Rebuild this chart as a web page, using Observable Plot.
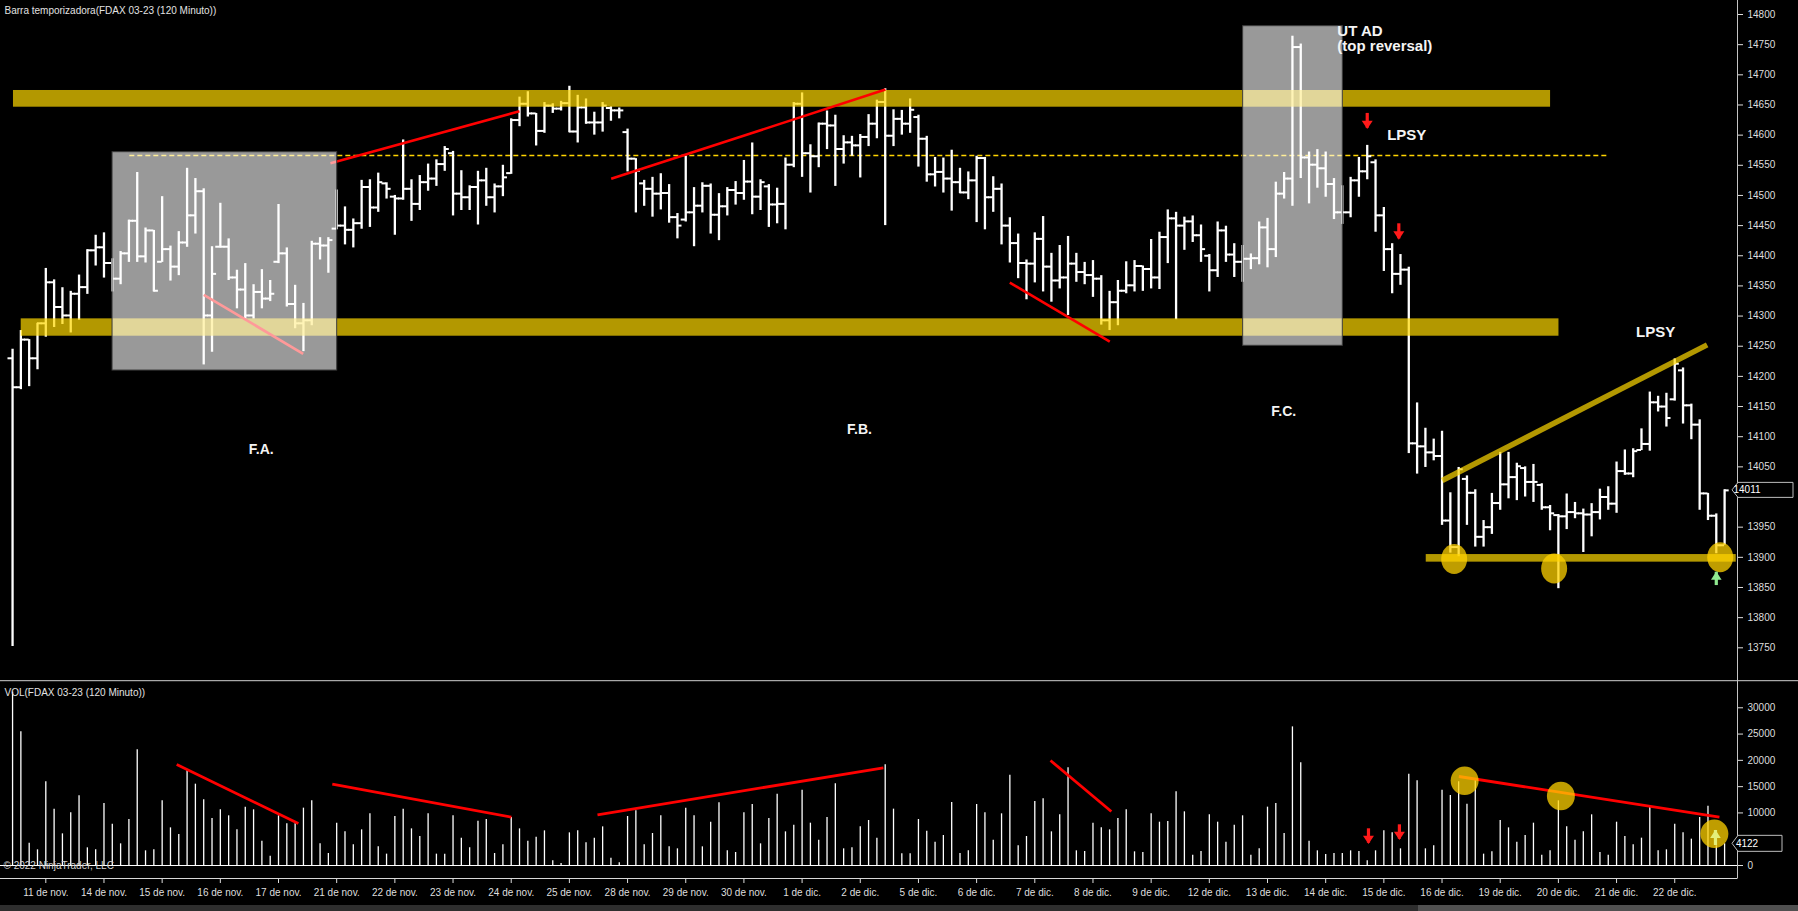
<!DOCTYPE html>
<html>
<head>
<meta charset="utf-8">
<script src="https://cdn.jsdelivr.net/npm/d3@7"></script>
<script src="https://cdn.jsdelivr.net/npm/@observablehq/plot@0.6"></script>
<style>
html,body{margin:0;padding:0;background:#000;}
#chart{position:relative;width:1798px;height:911px;background:#000;overflow:hidden;}
#price{position:absolute;left:0;top:0;}
#vol{position:absolute;left:0;top:680px;}
</style>
</head>
<body>
<div id="chart"><div id="price"></div><div id="vol"></div></div>
<script>
// ---------------- DATA ----------------
const opens = [
14230,14182,14261,14230,14288,14356,14315,14301,14337,14348,
14409,14414,14388,14362,14404,14458,14399,14442,14390,14411,
14382,14422,14467,14507,14301,14415,14415,14364,14344,14301,
14340,14329,14390,14404,14320,14288,14293,14420,14417,14445,
14450,14443,14454,14514,14480,14520,14498,14495,14511,14486,
14522,14528,14552,14570,14503,14497,14514,14525,14497,14515,
14537,14625,14652,14636,14607,14649,14644,14653,14606,14646,
14621,14621,14645,14641,14605,14561,14520,14511,14503,14504,
14464,14460,14472,14483,14516,14468,14482,14509,14504,14523,
14498,14515,14485,14486,14551,14652,14570,14565,14619,14616,
14577,14588,14583,14597,14619,14655,14599,14627,14619,14630,
14594,14535,14539,14528,14522,14505,14525,14562,14497,14511,
14450,14421,14388,14387,14428,14382,14359,14364,14387,14373,
14368,14362,14293,14323,14342,14351,14383,14378,14364,14431,
14462,14450,14457,14434,14400,14376,14442,14402,14390,14395,
14396,14447,14411,14503,14528,14746,14563,14551,14545,14519,
14472,14472,14525,14540,14555,14467,14411,14370,14377,14089,
14084,14074,14068,13961,13917,14030,14007,13934,13950,13990,
14021,14033,14048,14025,14020,13983,13970,13968,13975,13973,
13971,13975,14000,13989,14043,14039,14078,14088,14157,14150,
14162,14210,14152,14120,14006,13969,13920];
const highs = [
14245,14276,14261,14288,14379,14360,14347,14341,14368,14410,
14434,14438,14395,14407,14459,14538,14446,14442,14498,14416,
14440,14545,14528,14511,14415,14487,14428,14376,14387,14352,
14377,14359,14485,14413,14351,14321,14424,14430,14430,14509,
14481,14461,14525,14526,14537,14521,14500,14592,14526,14533,
14552,14559,14581,14573,14541,14516,14540,14545,14519,14550,
14627,14663,14672,14636,14654,14652,14656,14681,14666,14660,
14638,14654,14647,14645,14610,14561,14525,14530,14536,14518,
14470,14565,14513,14521,14519,14503,14513,14523,14558,14587,
14526,14518,14512,14562,14654,14670,14584,14620,14640,14633,
14599,14598,14601,14634,14658,14677,14642,14641,14660,14633,
14598,14563,14562,14575,14545,14539,14565,14563,14531,14519,
14463,14436,14393,14438,14465,14404,14417,14432,14404,14389,
14392,14367,14341,14359,14390,14392,14383,14427,14439,14476,
14472,14464,14466,14451,14402,14456,14449,14420,14417,14403,
14456,14462,14522,14538,14764,14751,14572,14576,14572,14528,
14516,14530,14563,14583,14559,14480,14420,14402,14381,14156,
14114,14096,14109,14007,14049,14035,14012,13961,14006,14074,
14074,14056,14050,14054,14022,13986,13971,14005,13991,13980,
13989,14013,14017,14058,14078,14080,14113,14174,14167,14172,
14229,14214,14154,14128,14006,13972,14012];
const lows = [
13752,14178,14183,14211,14265,14281,14286,14272,14293,14336,
14383,14363,14340,14352,14389,14389,14388,14340,14389,14358,
14367,14414,14436,14219,14240,14413,14359,14312,14295,14295,
14312,14324,14387,14315,14279,14241,14284,14393,14371,14443,
14418,14413,14444,14447,14472,14494,14434,14492,14457,14475,
14507,14515,14540,14466,14475,14475,14451,14482,14471,14498,
14535,14614,14630,14582,14603,14636,14640,14604,14587,14618,
14600,14605,14623,14627,14539,14471,14482,14464,14476,14454,
14428,14456,14415,14471,14436,14425,14466,14484,14492,14468,
14475,14447,14453,14443,14546,14530,14504,14546,14576,14515,
14552,14565,14529,14581,14594,14450,14581,14600,14603,14547,
14522,14514,14504,14474,14503,14493,14455,14443,14472,14418,
14388,14362,14327,14355,14340,14323,14345,14301,14356,14352,
14331,14285,14276,14284,14337,14340,14341,14345,14344,14387,
14294,14409,14422,14389,14340,14364,14389,14364,14356,14377,
14385,14380,14397,14494,14482,14528,14486,14512,14497,14460,
14452,14463,14497,14526,14439,14374,14337,14351,14072,14038,
14049,14060,13953,13907,13901,13953,13917,13917,13938,13978,
13997,13994,14000,13991,13978,13944,13848,13946,13964,13908,
13934,13962,13978,13973,14036,14032,14077,14076,14141,14116,
14159,14121,14095,13978,13961,13906,13920];
const closes = [
14182,14261,14230,14288,14356,14315,14301,14337,14348,14409,
14414,14388,14362,14404,14458,14399,14442,14342,14411,14382,
14422,14467,14507,14301,14370,14415,14364,14344,14301,14340,
14329,14337,14404,14320,14288,14293,14420,14417,14426,14450,
14443,14454,14514,14480,14522,14511,14495,14511,14486,14522,
14528,14552,14577,14503,14497,14514,14525,14497,14515,14530,
14625,14652,14636,14607,14649,14644,14653,14606,14646,14621,
14621,14649,14641,14641,14561,14541,14511,14503,14504,14464,
14450,14472,14483,14516,14468,14482,14509,14504,14523,14498,
14522,14485,14486,14551,14652,14570,14565,14619,14616,14577,
14588,14583,14597,14619,14655,14599,14627,14619,14642,14594,
14535,14539,14528,14522,14505,14525,14562,14497,14511,14450,
14421,14388,14387,14428,14382,14359,14364,14387,14373,14368,
14362,14293,14323,14342,14351,14383,14378,14364,14431,14462,
14450,14457,14434,14411,14376,14442,14402,14390,14395,14396,
14447,14411,14503,14528,14746,14563,14551,14545,14519,14472,
14472,14525,14540,14565,14467,14411,14370,14377,14089,14084,
14074,14068,13961,13917,14046,14007,13934,13950,13990,14021,
14033,14051,14025,14025,13983,13973,13968,13975,13973,13971,
13975,14000,13989,14043,14039,14076,14088,14157,14150,14131,
14221,14152,14120,14006,13969,13920,14011];
const volumes = [
33000,25420,4250,2980,15910,10720,6020,10020,13250,3360,
2980,11790,7860,4120,8750,22000,2790,2980,12300,7160,
5900,18010,15470,12490,8940,10590,9450,6780,11100,10590,
4630,1780,9450,7930,7930,10910,12300,4120,2280,8050,
6400,3930,6780,9830,3550,2160,9320,10720,6970,5520,
9830,2160,2160,9450,5200,3360,8430,8750,2280,3930,
9130,6970,4630,5390,6590,890,380,6210,6590,4310,
5200,7350,1400,510,9320,10400,3930,6090,9450,3550,
3170,10910,9450,3550,8240,11920,2790,2470,10020,11600,
4120,8940,13570,6400,7670,14330,8050,4820,9130,15530,
3170,3360,7350,8560,5200,19150,10720,2220,2220,8750,
6530,4440,5710,11980,2280,2790,11600,10020,4820,9830,
17180,3740,5520,12170,12680,6400,9640,18580,2790,2660,
8050,7160,6780,8940,10590,2600,2470,9830,8240,8370,
14010,10210,1970,2660,9640,8240,4440,7670,9450,1970,
3170,11100,11790,6090,26370,19530,4630,2790,2090,2280,
2280,2790,2660,890,2790,6590,6210,3170,17370,16100,
3170,3740,14330,13310,15910,11670,16290,2160,2600,8560,
7160,4440,5710,8050,1970,2790,12300,7350,4820,6400,
9640,2470,1970,8240,5520,3930,5200,11100,2790,2980,
7860,6210,5010,9130,11290,3740,4122];

const priceTicks = [13750,13800,13850,13900,13950,14000,14050,14100,14150,14200,14250,14300,14350,14400,14450,14500,14550,14600,14650,14700,14750,14800];
const volTicks = [0,5000,10000,15000,20000,25000,30000];
// tick values whose labels sit under the last-value markers (hidden in the reference)
const hiddenPriceLabels = [14000];
const hiddenVolLabels = [5000];
const dateTickBars = [4,11,18,25,32,39,46,53,60,67,74,81,88,95,102,109,116,123,130,137,144,151,158,165,172,179,186,193,200];
const dateTickLabels = ["11 de nov.","14 de nov.","15 de nov.","16 de nov.","17 de nov.","21 de nov.","22 de nov.","23 de nov.","24 de nov.","25 de nov.","28 de nov.","29 de nov.","30 de nov.","1 de dic.","2 de dic.","5 de dic.","6 de dic.","7 de dic.","8 de dic.","9 de dic.","12 de dic.","13 de dic.","14 de dic.","15 de dic.","16 de dic.","19 de dic.","20 de dic.","21 de dic.","22 de dic."];

// drawn annotations (bar index / price / volume units)
const goldBands = [
  {x1: 0.11, x2: 185.06, y1: 14646.3, y2: 14674},
  {x1: 1.04, x2: 186.07, y1: 14266.6, y2: 14295.4},
  {x1: 170.1, x2: 207.4, y1: 13892, y2: 13904.6}
];
const grayBoxes = [
  {x1: 12.03, x2: 39.06, y1: 14209.7, y2: 14571.7},
  {x1: 148.07, x2: 160.06, y1: 14250.7, y2: 14780.6}
];
const dashedLevels = [{y: 14566.2, x1: 14.11, x2: 192.03}];
const redLinesPrice = [
  {x1: 38.25, y1: 14553.4, x2: 60.99, y2: 14639.7},
  {x1: 23.01, y1: 14335.2, x2: 34.97, y2: 14237.4},
  {x1: 72.03, y1: 14527.6, x2: 105.03, y2: 14675.5},
  {x1: 119.99, y1: 14355.6, x2: 132.02, y2: 14257.8}
];
const goldTrend = [{x1: 172.02, y1: 14027.3, x2: 203.9, y2: 14252.3}];
const priceCircles = [{i: 173.46, p: 13897.1}, {i: 185.49, p: 13881.4}, {i: 205.47, p: 13900.2}];
const priceDownArrows = [{i: 163.0, tail: 14636, tip: 14611.5}, {i: 166.8, tail: 14453, tip: 14428}];
const priceUpArrows = [{i: 205.0, tail: 13853.2, tip: 13875.3}];
const phaseLabels = [
  {i: 29.93, p: 14078.7, t: "F.A."},
  {i: 101.9, p: 14111.9, t: "F.B."},
  {i: 152.95, p: 14141.2, t: "F.C."}
];
const eventLabels = [
  {i: 159.4, p: 14773, t: "UT AD"},
  {i: 159.4, p: 14747, t: "(top reversal)"},
  {i: 165.4, p: 14599.4, t: "LPSY"},
  {i: 195.34, p: 14273.9, t: "LPSY"}
];
const redLinesVol = [
  {x1: 19.75, y1: 19210, x2: 34.39, y2: 7988},
  {x1: 38.47, y1: 15463, x2: 60.02, y2: 9187},
  {x1: 70.38, y1: 9643, x2: 104.78, y2: 18583},
  {x1: 124.89, y1: 19971, x2: 132.21, y2: 10271},
  {x1: 174.03, y1: 16928, x2: 205.38, y2: 9187}
];
const volCircles = [{i: 174.72, v: 16129}, {i: 186.3, v: 13219}, {i: 204.77, v: 6048}];
const volDownArrows = [{i: 163.15, tail: 6980, tip: 4241}, {i: 166.87, tail: 7741, tip: 5002}];
const volUpArrows = [{i: 204.9, tail: 3804, tip: 6657}];

const priceTitle = "Barra temporizadora(FDAX 03-23 (120 Minuto))";
const volTitle = "VOL(FDAX 03-23 (120 Minuto))";
const copyright = "\u00a9 2022 NinjaTrader, LLC";
const lastPrice = 14011;
const lastVolume = 4122;

// ---------------- HELPERS ----------------
const FONT = "'Liberation Sans', Arial, sans-serif";
function ellipseSymbol(rx, ry) {
  const k = 0.5523;
  return {draw(ctx) {
    ctx.moveTo(rx, 0);
    ctx.bezierCurveTo(rx, ry * k, rx * k, ry, 0, ry);
    ctx.bezierCurveTo(-rx * k, ry, -rx, ry * k, -rx, 0);
    ctx.bezierCurveTo(-rx, -ry * k, -rx * k, -ry, 0, -ry);
    ctx.bezierCurveTo(rx * k, -ry, rx, -ry * k, rx, 0);
    ctx.closePath();
  }};
}
const downHead = {draw(ctx) { ctx.moveTo(-5.5, -7.5); ctx.lineTo(5.5, -7.5); ctx.lineTo(0, 0.8); ctx.closePath(); }};
const upHead = {draw(ctx) { ctx.moveTo(-5.3, 7.5); ctx.lineTo(5.3, 7.5); ctx.lineTo(0, -0.8); ctx.closePath(); }};

function arrowMarks(data, color, head) {
  return [
    Plot.ruleX(data, {x: "i", y1: "tail", y2: "tip", stroke: color, strokeWidth: 3.2}),
    Plot.dot(data, {x: "i", y: "tip", symbol: head, r: 6, fill: color, stroke: "none"})
  ];
}

const W = 1798;
const MR = 61;
const xScale = {type: "linear", domain: [0, 206], range: [12.06, 1724.1]};

const barData = opens.map((o, i) => ({i, o, h: highs[i], l: lows[i], c: closes[i]}));
const volData = volumes.map((v, i) => ({i, v}));
const GOLD = "rgb(255,216,0)";
const intFmt = d3.format("d");

// ---------------- PRICE PANE ----------------
const pricePlot = Plot.plot({
  width: W, height: 680,
  marginLeft: 0, marginRight: MR, marginTop: 0, marginBottom: 0,
  style: {background: "#000", color: "#dedede", fontFamily: FONT, fontSize: "10px"},
  x: {...xScale, axis: null},
  y: {domain: [13750, 14800], range: [647.3, 14]},
  marks: [
    Plot.ruleY(dashedLevels, {y: "y", x1: "x1", x2: "x2", stroke: "#FFD400", strokeWidth: 1.7, strokeDasharray: "5,3"}),
    Plot.ruleX(barData, {x: "i", y1: "l", y2: "h", stroke: "#fff", strokeWidth: 2.3}),
    Plot.ruleY(barData, {y: "o", x1: d => d.i - 0.55, x2: "i", stroke: "#fff", strokeWidth: 2}),
    Plot.ruleY(barData, {y: "c", x1: "i", x2: d => d.i + 0.55, stroke: "#fff", strokeWidth: 2}),
    Plot.rect(goldBands, {x1: "x1", x2: "x2", y1: "y1", y2: "y2", fill: GOLD, fillOpacity: 0.7}),
    Plot.link(redLinesPrice, {x1: "x1", y1: "y1", x2: "x2", y2: "y2", stroke: "#ff0000", strokeWidth: 2.6}),
    Plot.link(goldTrend, {x1: "x1", y1: "y1", x2: "x2", y2: "y2", stroke: GOLD, strokeOpacity: 0.7, strokeWidth: 5.5}),
    Plot.rect(grayBoxes, {x1: "x1", x2: "x2", y1: "y1", y2: "y2", fill: "#fff", fillOpacity: 0.6, stroke: "#3c3c3c", strokeWidth: 1}),
    Plot.dot(priceCircles, {x: "i", y: "p", symbol: ellipseSymbol(13, 15), r: 10, fill: "rgb(255,210,0)", fillOpacity: 0.75, stroke: "none"}),
    ...arrowMarks(priceDownArrows, "#ff1a1a", downHead),
    ...arrowMarks(priceUpArrows, "#8fe88f", upHead),
    Plot.text(phaseLabels, {x: "i", y: "p", text: "t", fill: "#f4f4f4", fontWeight: "bold", fontSize: 14, textAnchor: "middle"}),
    Plot.text(eventLabels, {x: "i", y: "p", text: "t", fill: "#f4f4f4", fontWeight: "bold", fontSize: 15, textAnchor: "start"}),
    Plot.text([priceTitle], {frameAnchor: "top-left", dx: 4, dy: 6, fill: "#e2e2e2", fontSize: 10}),
    Plot.axisY({anchor: "right", ticks: priceTicks, tickFormat: d => hiddenPriceLabels.includes(d) ? "" : intFmt(d), tickSize: 5, tickPadding: 5, label: null, fontSize: 10})
  ]
});
document.getElementById("price").appendChild(pricePlot);

// ---------------- VOLUME PANE ----------------
const volPlot = Plot.plot({
  width: W, height: 231,
  marginLeft: 0, marginRight: MR, marginTop: 0, marginBottom: 33,
  style: {background: "#000", color: "#dedede", fontFamily: FONT, fontSize: "10px"},
  x: xScale,
  y: {domain: [0, 35000], range: [185, 1]},
  marks: [
    Plot.ruleX(volData, {x: "i", y1: 0, y2: "v", stroke: "#fff", strokeWidth: 1.3}),
    Plot.ruleY([0], {stroke: "#fff", strokeWidth: 1.2}),
    Plot.link(redLinesVol, {x1: "x1", y1: "y1", x2: "x2", y2: "y2", stroke: "#ff0000", strokeWidth: 2.8}),
    Plot.dot(volCircles, {x: "i", y: "v", symbol: ellipseSymbol(14, 14.3), r: 10, fill: "rgb(255,210,0)", fillOpacity: 0.75, stroke: "none"}),
    ...arrowMarks(volDownArrows, "#ff1a1a", downHead),
    ...arrowMarks(volUpArrows, "#e4ee7a", upHead),
    Plot.text([volTitle], {frameAnchor: "top-left", dx: 4, dy: 8, fill: "#e2e2e2", fontSize: 10}),
    Plot.text([copyright], {frameAnchor: "left", y: () => 0, dx: 3, fill: "#d0d0d0", fontSize: 10}),
    Plot.axisY({anchor: "right", ticks: volTicks, tickFormat: d => hiddenVolLabels.includes(d) ? "" : intFmt(d), tickSize: 5, tickPadding: 5, label: null, fontSize: 10}),
    Plot.axisX({anchor: "bottom", ticks: dateTickBars, tickFormat: d => dateTickLabels[dateTickBars.indexOf(d)], tickSize: 5, tickPadding: 5, label: null, fontSize: 10})
  ]
});
document.getElementById("vol").appendChild(volPlot);

// ---------------- FRAME DECORATIONS ----------------
const axisX = W - MR;
const ps = d3.select(pricePlot);
ps.append("line").attr("x1", axisX + 0.5).attr("x2", axisX + 0.5).attr("y1", 0).attr("y2", 680).attr("stroke", "#c4c4c4");
const py = pricePlot.scale("y").apply(lastPrice);
ps.append("path")
  .attr("d", `M${axisX - 5},${py} L${axisX + 1},${py - 7.5} L${W - 5},${py - 7.5} L${W - 5},${py + 7.5} L${axisX + 1},${py + 7.5} Z`)
  .attr("fill", "#000").attr("stroke", "#bdbdbd");
ps.append("text").attr("x", axisX + 10).attr("y", py).attr("dy", "0.35em")
  .attr("fill", "#fff").attr("font-size", 10).attr("font-family", FONT).text(String(lastPrice));

const vs = d3.select(volPlot);
vs.append("line").attr("x1", 0).attr("x2", W).attr("y1", 0.7).attr("y2", 0.7).attr("stroke", "#d0d0d0");
vs.append("line").attr("x1", axisX + 0.5).attr("x2", axisX + 0.5).attr("y1", 0).attr("y2", 198).attr("stroke", "#c4c4c4");
vs.append("line").attr("x1", 0).attr("x2", axisX + 0.5).attr("y1", 198.5).attr("y2", 198.5).attr("stroke", "#d8d8d8");
vs.append("rect").attr("x", 0).attr("y", 225).attr("width", W).attr("height", 6).attr("fill", "#2e2e2e");
vs.append("rect").attr("x", 1418).attr("y", 225).attr("width", W - 1418).attr("height", 6).attr("fill", "#505050");
const vy = volPlot.scale("y").apply(lastVolume);
vs.append("path")
  .attr("d", `M${axisX - 5},${vy} L${axisX + 1},${vy - 8} L${axisX + 45},${vy - 8} L${axisX + 45},${vy + 8} L${axisX + 1},${vy + 8} Z`)
  .attr("fill", "#000").attr("stroke", "#bdbdbd");
vs.append("text").attr("x", axisX + 10).attr("y", vy).attr("dy", "0.35em")
  .attr("fill", "#fff").attr("font-size", 10).attr("font-family", FONT).text(String(lastVolume));
</script>
</body>
</html>
